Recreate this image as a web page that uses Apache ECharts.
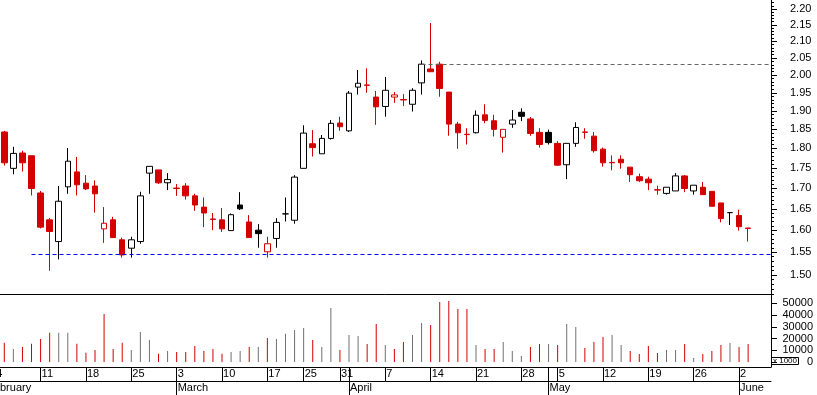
<!DOCTYPE html>
<html><head><meta charset="utf-8">
<script src="https://cdn.jsdelivr.net/npm/echarts@6/dist/echarts.min.js"></script>
<style>html,body{margin:0;padding:0;background:#fff}#c{width:817px;height:395px}</style>
</head><body><div id="c"></div>
<script>
// Trading days before the first visible candle (off-canvas, used only by the date axis)
const leadDates = ['2008-02-01','2008-02-04'];
const dates = [
'2008-02-05','2008-02-06','2008-02-07','2008-02-08',
'2008-02-11','2008-02-12','2008-02-13','2008-02-14','2008-02-15',
'2008-02-18','2008-02-19','2008-02-20','2008-02-21','2008-02-22',
'2008-02-25','2008-02-26','2008-02-27','2008-02-28','2008-02-29',
'2008-03-03','2008-03-04','2008-03-05','2008-03-06','2008-03-07',
'2008-03-10','2008-03-11','2008-03-12','2008-03-13','2008-03-14',
'2008-03-17','2008-03-18','2008-03-19','2008-03-20',
'2008-03-25','2008-03-26','2008-03-27','2008-03-28',
'2008-03-31','2008-04-01','2008-04-02','2008-04-03','2008-04-04',
'2008-04-07','2008-04-08','2008-04-09','2008-04-10','2008-04-11',
'2008-04-14','2008-04-15','2008-04-16','2008-04-17','2008-04-18',
'2008-04-21','2008-04-22','2008-04-23','2008-04-24','2008-04-25',
'2008-04-28','2008-04-29','2008-04-30','2008-05-02',
'2008-05-05','2008-05-06','2008-05-07','2008-05-08','2008-05-09',
'2008-05-12','2008-05-13','2008-05-14','2008-05-15','2008-05-16',
'2008-05-19','2008-05-20','2008-05-21','2008-05-22','2008-05-23',
'2008-05-26','2008-05-27','2008-05-28','2008-05-29','2008-05-30',
'2008-06-02','2008-06-03'];
const open = [1.843,1.749,1.788,1.781, 1.688,1.624,1.574,1.703,1.740, 1.712,1.705,1.603,1.624,1.578,
1.559,1.574,1.737,1.745,1.713, 1.700,1.705,1.681,1.654,1.626, 1.624,1.599,1.659,1.619,1.600,
1.551,1.581,1.638,1.623, 1.749,1.812,1.786,1.826, 1.867,1.846,1.966,1.972,1.938,
1.912,1.938,1.931,1.918,1.978, 2.018,2.032,1.952,1.864,1.837, 1.841,1.889,1.873,1.829,1.864,
1.896,1.878,1.842,1.842, 1.813,1.758,1.813,1.843,1.832, 1.798,1.764,1.772,1.752,1.728,
1.722,1.696,1.687,1.693,1.730, 1.693,1.702,1.692,1.664,1.641, 1.634,1.605];
const high = [1.846,1.804,1.794,1.781, 1.693,1.628,1.705,1.801,1.778, 1.732,1.719,1.654,1.631,1.583,
1.585,1.691,1.754,1.745,1.737, 1.710,1.712,1.686,1.677,1.640, 1.652,1.639,1.690,1.635,1.614,
1.585,1.628,1.677,1.732, 1.861,1.848,1.835,1.875, 1.884,1.955,2.015,2.020,1.955,
1.995,1.952,1.946,1.963,2.043, 2.156,2.039,1.952,1.870,1.853, 1.901,1.918,1.889,1.850,1.902,
1.907,1.883,1.853,1.849, 1.819,1.813,1.869,1.853,1.843, 1.802,1.782,1.782,1.752,1.736,
1.728,1.706,1.702,1.737,1.732, 1.707,1.715,1.692,1.664,1.641, 1.648,1.605];
const low = [1.756,1.734,1.741,1.682, 1.604,1.509,1.534,1.686,1.682, 1.695,1.641,1.571,1.583,1.538,
1.538,1.569,1.686,1.710,1.695, 1.681,1.672,1.645,1.607,1.600, 1.596,1.599,1.647,1.583,1.560,
1.538,1.560,1.620,1.615, 1.749,1.779,1.786,1.823, 1.846,1.843,1.945,1.950,1.862,
1.884,1.922,1.913,1.898,1.945, 2.010,1.939,1.833,1.799,1.810, 1.839,1.866,1.831,1.789,1.854,
1.872,1.833,1.802,1.810, 1.755,1.722,1.804,1.825,1.789, 1.753,1.744,1.748,1.715,1.715,
1.695,1.684,1.684,1.693,1.690, 1.684,1.684,1.656,1.618,1.612, 1.599,1.574];
const close = [1.763,1.787,1.763,1.699, 1.607,1.597,1.668,1.767,1.708, 1.698,1.686,1.616,1.583,1.544,
1.578,1.681,1.754,1.713,1.721, 1.699,1.681,1.659,1.640,1.625, 1.603,1.636,1.650,1.583,1.592,
1.569,1.618,1.638,1.727, 1.840,1.802,1.826,1.866, 1.857,1.949,1.977,1.971,1.911,
1.957,1.944,1.930,1.957,2.032, 2.010,1.962,1.864,1.841,1.836, 1.888,1.874,1.850,1.850,1.875,
1.885,1.839,1.810,1.815, 1.757,1.813,1.855,1.842,1.794, 1.763,1.763,1.763,1.733,1.718,
1.713,1.695,1.702,1.730,1.699, 1.707,1.684,1.656,1.627,1.641, 1.608,1.604];
// volume in thousands of shares (axis shows "x 1000")
const volume = [16400,11100,12800,15600, 19600,24900,24900,24900,15600, 7900,10200,40900,11100,16400,
10200,25500,18700,7100,9400, 8500,8500,13600,9400,11100, 7100,8500,9400,12800,12800,
20400,19600,24100,27200, 28900,18700,12800,46000, 10200,23000,22100,15300,32300,
14500,11100,17000,23000,33200, 31500,51100,51900,45100,45100, 14500,11100,11100,17000,9400,
5100,12800,15300,15300, 14500,32300,29800,11900,17000, 21300,23000,14500,9400,6800,
13600,7700,10200,10200,15300, 3400,6800,9400,14500,16200, 12800,15300];
// dashed reference lines
const supportLine = {from:'2008-02-08', price:1.545};
const resistanceLine = {from:'2008-04-11', price:2.032};
const priceLabels = [1.50,1.55,1.60,1.65,1.70,1.75,1.80,1.85,1.90,1.95,2.00,2.05,2.10,2.15,2.20];
const priceMinorTicks = [];
for (let c = 146; c <= 222; c++) priceMinorTicks.push(c / 100);
const volumeLabels = [0,10000,20000,30000,40000,50000];
const monthNames = ['January','February','March','April','May','June','July','August','September','October','November','December'];

const FONT = "'Liberation Sans', Arial, Helvetica, sans-serif";
const RED = '#d40000', BLACK = '#000000', GRAY = '#707070';
const GL = -18.38, GR = 46;
const XMIN = -0.5, XMAX = 86.52;
const YMIN = Math.log(1.4595), YMAX = Math.log(2.2287);

const allDates = leadDates.concat(dates);
const off = leadDates.length;
const parse = s => { const p = s.split('-').map(Number); return new Date(Date.UTC(p[0], p[1]-1, p[2])); };
const D = allDates.map(parse);
const weekStarts = [], monthStarts = [];
for (let i = 0; i < D.length; i++) {
  if (i === 0 || D[i].getUTCMonth() !== D[i-1].getUTCMonth()) monthStarts.push(i);
  if (i > 0 && (D[i].getUTCDay() < D[i-1].getUTCDay() || (D[i]-D[i-1]) / 864e5 > 6)) weekStarts.push(i);
}
const dayTicks = Array.from(new Set(weekStarts.concat(monthStarts))).sort((a,b)=>a-b);
const idxOf = s => allDates.indexOf(s);

const candleData = dates.map((d, k) => {
  const prev = k > 0 ? close[k-1] : open[k];
  const col = close[k] <= prev ? RED : BLACK;
  const fill = close[k] > open[k] ? '#ffffff' : col;
  return {value: [k + off, Math.log(open[k]), Math.log(close[k]), Math.log(low[k]), Math.log(high[k])],
    itemStyle: {color: fill, color0: fill, borderColor: col, borderColor0: col, borderColorDoji: col}};
});
const volData = dates.map((d, k) => {
  const prev = k > 0 ? close[k-1] : open[k];
  return {value: [k + off, volume[k]], itemStyle: {color: close[k] < prev ? RED : GRAY}};
});

const hideAxis = {axisLine:{show:false,onZero:false}, axisTick:{show:false}, axisLabel:{show:false}, splitLine:{show:false}};
const lineBlack = {color:'#000', width:1};
const txt = {color:'#000', fontSize:11, fontFamily:FONT};

const option = {
  animation: false,
  backgroundColor: '#fff',
  title: {text:'x 1000', left:771, top:357, padding:[0,2], borderColor:'#000', borderWidth:1,
    textStyle:{fontSize:8, fontWeight:'normal', fontFamily:FONT, color:'#000', lineHeight:8}},
  grid: [
    {left:GL, right:GR, top:0, height:294, containLabel:false, outerBoundsMode:'none'},
    {left:GL, right:GR, top:294, height:73, containLabel:false, outerBoundsMode:'none'},
    {left:GL, right:GR, top:367, height:14, containLabel:false, outerBoundsMode:'none'},
    {left:GL, right:GR, top:0, height:294, containLabel:false, outerBoundsMode:'none'}
  ],
  xAxis: [
    Object.assign({}, hideAxis, {type:'value', gridIndex:0, min:XMIN, max:XMAX,
      axisLine:{show:true, onZero:false, lineStyle:lineBlack}}),
    Object.assign({}, hideAxis, {type:'value', gridIndex:1, min:XMIN, max:XMAX,
      axisLine:{show:true, onZero:false, lineStyle:lineBlack},
      axisTick:{show:true, length:14, customValues:dayTicks, lineStyle:lineBlack},
      axisLabel:Object.assign({show:true, customValues:weekStarts, align:'left', padding:[0,0,0,1], margin:1,
        formatter: v => String(D[Math.round(v)].getUTCDate())}, txt)}),
    Object.assign({}, hideAxis, {type:'value', gridIndex:2, min:XMIN, max:XMAX,
      axisLine:{show:true, onZero:false, lineStyle:lineBlack},
      axisTick:{show:true, length:14, customValues:monthStarts, lineStyle:lineBlack},
      axisLabel:Object.assign({show:true, customValues:monthStarts, align:'left', padding:[0,0,0,1], margin:1,
        formatter: v => monthNames[D[Math.round(v)].getUTCMonth()]}, txt)}),
    Object.assign({}, hideAxis, {type:'value', gridIndex:3, min:XMIN, max:XMAX})
  ],
  yAxis: [
    Object.assign({}, hideAxis, {type:'value', gridIndex:0, position:'right', min:YMIN, max:YMAX,
      axisLine:{show:true, onZero:false, lineStyle:lineBlack},
      axisTick:{show:true, length:6, customValues:priceLabels.map(Math.log), lineStyle:lineBlack},
      axisLabel:Object.assign({show:true, customValues:priceLabels.map(Math.log), margin:19,
        formatter: v => Math.exp(v).toFixed(2)}, txt)}),
    Object.assign({}, hideAxis, {type:'value', gridIndex:1, position:'right', min:-4213, max:57915,
      axisLine:{show:true, onZero:false, lineStyle:lineBlack},
      axisTick:{show:true, length:6, customValues:volumeLabels, lineStyle:lineBlack},
      axisLabel:Object.assign({show:true, customValues:volumeLabels, margin:42, align:'right',
        formatter: v => String(Math.round(v))}, txt)}),
    Object.assign({}, hideAxis, {type:'value', gridIndex:2, min:0, max:1}),
    Object.assign({}, hideAxis, {type:'value', gridIndex:3, position:'right', min:YMIN, max:YMAX,
      axisTick:{show:true, length:3, customValues:priceMinorTicks.map(Math.log), lineStyle:lineBlack}})
  ],
  series: [
    {type:'candlestick', xAxisIndex:0, yAxisIndex:0, barWidth:6, data:candleData,
      itemStyle:{borderWidth:1},
      markLine:{symbol:'none', silent:true, animation:false, label:{show:false},
        data:[
          [{coord:[idxOf(supportLine.from), Math.log(supportLine.price)], lineStyle:{color:'#0000ff', width:1, type:[4,3]}},
           {coord:[XMAX, Math.log(supportLine.price)]}],
          [{coord:[idxOf(resistanceLine.from), Math.log(resistanceLine.price)], lineStyle:{color:'#666666', width:1, type:[4,3]}},
           {coord:[XMAX, Math.log(resistanceLine.price)]}]
        ]}},
    {type:'bar', xAxisIndex:1, yAxisIndex:1, barWidth:1, data:volData}
  ]
};
const chart = echarts.init(document.getElementById('c'), null, {renderer:'canvas'});
chart.setOption(option);
</script></body></html>
